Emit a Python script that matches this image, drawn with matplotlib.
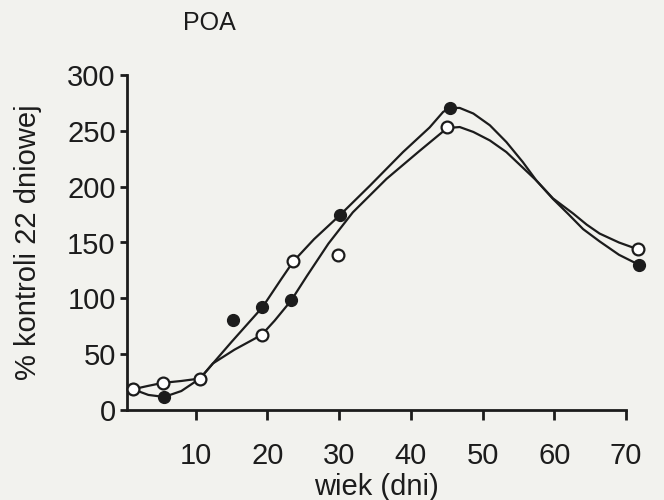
import matplotlib
matplotlib.use("Agg")
import matplotlib.pyplot as plt

# ── Data ──────────────────────────────────────────────────────────────
# measured points (age in days, % of 22-day control)
open_x = [1.26, 5.4, 10.6, 19.2, 23.6, 29.8, 45.0, 71.6]
open_y = [18.6, 24.3, 28.2, 67.3, 133, 139, 253, 144]

filled_x = [1.26, 5.6, 10.6, 15.2, 19.3, 23.3, 30.1, 45.5, 71.8]
filled_y = [18.6, 11.7, 28.2, 80.8, 92, 98.2, 174.5, 270.5, 130]

# hand-drawn smooth curves
open_curve_x = [1.26, 3.3, 5.4, 8.0, 10.6, 12.4, 15.4, 19.2, 21.0, 23.3,
                25.5, 28.5, 31.9, 36.6, 41.2, 44.4, 45.0, 46.8, 48.7,
                51.0, 53.3, 55.6, 57.5, 59.8, 62.6, 64.5, 66.3, 69.0,
                71.6]
open_curve_y = [18.6, 21.5, 24.3, 26.0, 28.2, 41.7, 54.0, 67.3, 80.0, 98.0,
                120, 149, 177, 207, 232, 249, 252.5, 253.4, 249,
                241.4, 231, 217, 205.4, 189.5, 176, 166, 158, 150,
                144]

filled_curve_x = [1.26, 3.4, 5.6, 8.0, 10.6, 12.4, 15.0, 19.3, 21.9, 23.6,
                  26.5, 30.1, 34.3, 38.9, 42.6, 44.5, 45.5, 46.8, 48.7,
                  51.0, 53.3, 55.6, 57.5, 59.8, 61.9, 64.0, 66.3, 69.0,
                  71.8]
filled_curve_y = [18.6, 13.5, 11.7, 17.0, 28.2, 41.7, 61.0, 92.0, 117, 133,
                  153, 174.5, 201, 231, 253, 267, 270.5, 270.5, 265.5,
                  255, 240, 222, 205.4, 189, 175.7, 162, 151, 139,
                  130]

x_ticks = [10, 20, 30, 40, 50, 60, 70]
y_ticks = [0, 50, 100, 150, 200, 250, 300]

bg = "#f2f2ee"
ink = "#1c1c1c"

plt.rcParams["font.family"] = ["Liberation Sans", "DejaVu Sans"]

fig = plt.figure(figsize=(6.64, 5.0), dpi=100, facecolor=bg)
ax = fig.add_axes([0.191, 0.180, 0.752, 0.670], facecolor=bg)

ax.plot(open_curve_x, open_curve_y, color=ink, lw=1.6, clip_on=False,
        solid_joinstyle="round")
ax.plot(filled_curve_x, filled_curve_y, color=ink, lw=1.6, clip_on=False,
        solid_joinstyle="round")

ax.plot(filled_x, filled_y, "o", ms=8.5, color=ink, mec=ink, clip_on=False,
        zorder=3)
ax.plot(open_x, open_y, "o", ms=8.5, mfc="white", mec=ink, mew=1.6,
        clip_on=False, zorder=4)

ax.set_xlim(0.4, 70)
ax.set_ylim(0, 300)
ax.set_xticks(x_ticks)
ax.set_yticks(y_ticks)

for side in ("top", "right"):
    ax.spines[side].set_visible(False)
for side in ("left", "bottom"):
    ax.spines[side].set_linewidth(2.0)
    ax.spines[side].set_color(ink)

ax.tick_params(axis="x", direction="out", length=7, width=2.0, pad=16,
               labelsize=21, colors=ink)
ax.tick_params(axis="y", direction="out", length=5, width=2.0, pad=3,
               labelsize=21, colors=ink)

ax.set_xlabel("wiek (dni)", fontsize=21, color=ink, labelpad=2)
ax.set_ylabel("% kontroli 22 dniowej", fontsize=21, color=ink, labelpad=18)
fig.text(0.316, 0.953, "POA", fontsize=18, color=ink, ha="center",
         va="center")

fig.savefig("out.png", dpi=100, facecolor=bg)
